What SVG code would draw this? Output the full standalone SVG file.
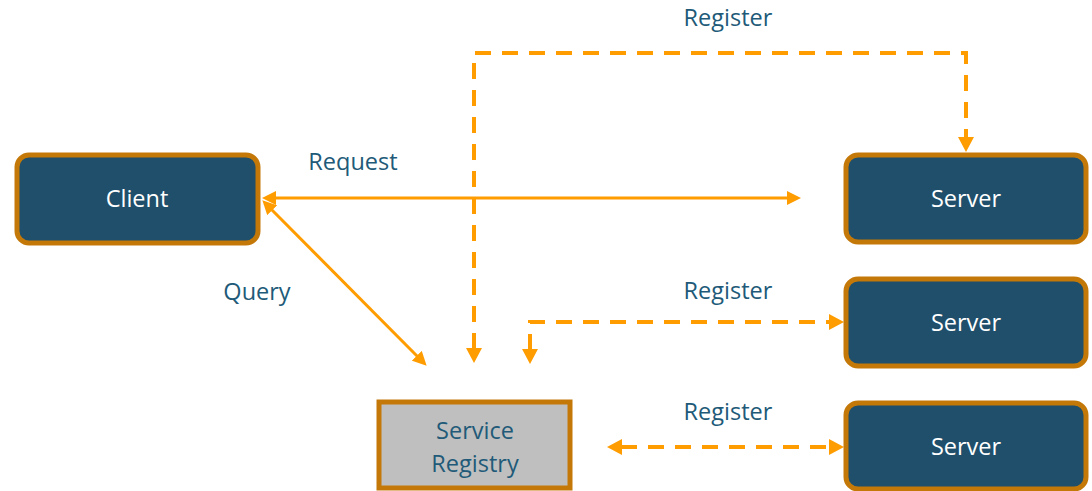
<svg xmlns="http://www.w3.org/2000/svg" width="1092" height="491" viewBox="0 0 1092 491">
<style>
text{font-family:"Open Sans","Liberation Sans",sans-serif;font-size:23.5px;text-anchor:middle}
.box{fill:#1F4F6B;stroke:#C47808;stroke-width:5}
.reg{fill:#BFBFBF;stroke:#C47808;stroke-width:5}
.w{fill:#FFFFFF}
.lbl{fill:#215A78}
.solid{fill:none;stroke:#FF9C00;stroke-width:3}
.dash{fill:none;stroke:#FF9C00;stroke-width:4;stroke-dasharray:16 11}
</style>
<defs>
<marker id="a" markerUnits="userSpaceOnUse" markerWidth="15" markerHeight="14" refX="1" refY="7" orient="auto-start-reverse"><path d="M0,0 L14,7 L0,14 z" fill="#FF9C00"/></marker>
<marker id="d" markerUnits="userSpaceOnUse" markerWidth="16" markerHeight="16" refX="1" refY="8" orient="auto-start-reverse"><path d="M0,0 L15,8 L0,16 z" fill="#FF9C00"/></marker>
</defs>
<g id="connectors">
<path class="solid" d="M275,198 H788" marker-start="url(#a)" marker-end="url(#a)"/>
<path class="solid" d="M271.5,209.5 L417.5,356.5" marker-start="url(#a)" marker-end="url(#a)"/>
<path class="dash" d="M474,349 V53 H966 V138" marker-start="url(#d)" marker-end="url(#d)"/>
<path class="dash" d="M530,350 V322 H830" marker-start="url(#d)" marker-end="url(#d)"/>
<path class="dash" d="M621,447 H830" marker-start="url(#d)" marker-end="url(#d)"/>
<text class="lbl" x="353" y="170">Request</text>
<text class="lbl" x="257" y="300">Query</text>
<text class="lbl" x="728" y="26">Register</text>
<text class="lbl" x="728" y="299">Register</text>
<text class="lbl" x="728" y="420">Register</text>
</g>
<g id="client"><rect class="box" x="17" y="155" width="241" height="88" rx="12"/><text class="w" x="137" y="207">Client</text></g>
<g id="server1"><rect class="box" x="846" y="155" width="240" height="87" rx="12"/><text class="w" x="966" y="207">Server</text></g>
<g id="server2"><rect class="box" x="846" y="279" width="240" height="87" rx="12"/><text class="w" x="966" y="331">Server</text></g>
<g id="server3"><rect class="box" x="846" y="403" width="240" height="86" rx="12"/><text class="w" x="966" y="455">Server</text></g>
<g id="registry"><rect class="reg" x="379" y="402" width="191" height="86"/><text class="lbl" x="475" y="439">Service</text><text class="lbl" x="475" y="472">Registry</text></g>
</svg>
